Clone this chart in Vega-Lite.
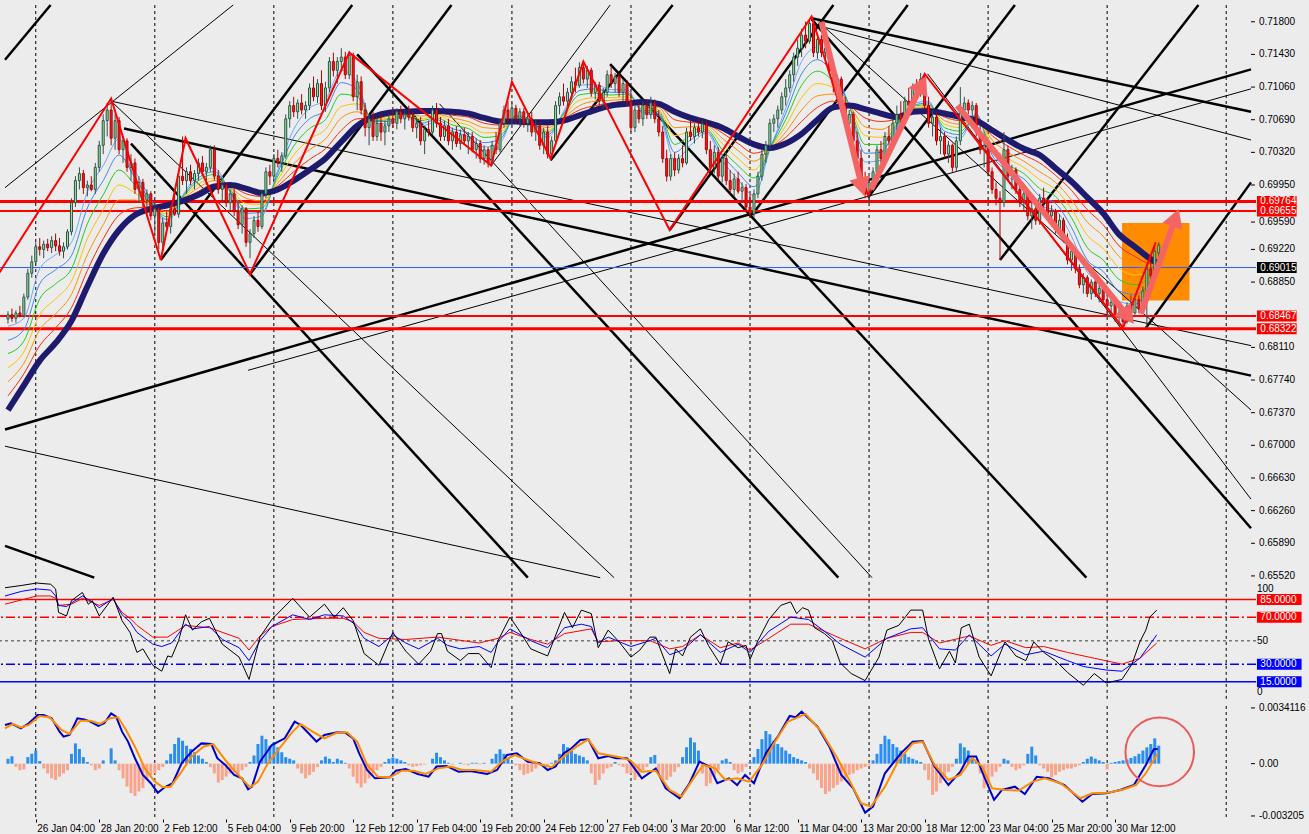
{
"$schema":"https://vega.github.io/schema/vega-lite/v6.json",
"width":1256,"height":819,
"autosize":{"type":"none"},
"padding":{"left":0,"top":0,"right":53,"bottom":15},
"background":"#ececec",
"config":{"view":{"stroke":null,"fill":"#ececec"},"axis":{"labelFont":"Liberation Sans","labelFontSize":10,"labelColor":"#000","tickColor":"#000","domain":false,"grid":false},"text":{"font":"Liberation Sans"}},
"resolve":{"scale":{"y":"independent","color":"independent","strokeWidth":"independent","strokeDash":"independent"}},
"datasets":{
"grid":[{"i":7},{"i":37},{"i":67},{"i":97},{"i":127},{"i":157},{"i":187},{"i":217},{"i":247},{"i":277},{"i":307}],
"bars":[
{"i":0,"o":6843,"h":6852,"l":6838,"c":6848,"g":30},{"i":1,"o":6848,"h":6855,"l":6840,"c":6844,"g":45},{"i":2,"o":6844,"h":6853,"l":6839,"c":6850,"g":-20},{"i":3,"o":6850,"h":6858,"l":6845,"c":6847,"g":-40},{"i":4,"o":6847,"h":6872,"l":6845,"c":6868,"g":-35},{"i":5,"o":6868,"h":6900,"l":6865,"c":6895,"g":40},{"i":6,"o":6895,"h":6915,"l":6890,"c":6908,"g":60},{"i":7,"o":6908,"h":6930,"l":6905,"c":6925,"g":80},{"i":8,"o":6925,"h":6935,"l":6915,"c":6922,"g":16},{"i":9,"o":6922,"h":6932,"l":6912,"c":6928,"g":-30},
{"i":10,"o":6928,"h":6934,"l":6920,"c":6924,"g":-60},{"i":11,"o":6924,"h":6937,"l":6918,"c":6932,"g":-90},{"i":12,"o":6932,"h":6940,"l":6920,"c":6926,"g":-100},{"i":13,"o":6926,"h":6935,"l":6915,"c":6920,"g":-80},{"i":14,"o":6920,"h":6930,"l":6912,"c":6925,"g":-60},{"i":15,"o":6925,"h":6945,"l":6922,"c":6942,"g":-40},{"i":16,"o":6942,"h":6980,"l":6938,"c":6975,"g":60},{"i":17,"o":6975,"h":7005,"l":6970,"c":7000,"g":124},{"i":18,"o":7000,"h":7015,"l":6990,"c":7008,"g":90},{"i":19,"o":7008,"h":7012,"l":6985,"c":6992,"g":40},
{"i":20,"o":6992,"h":7000,"l":6982,"c":6995,"g":10},{"i":21,"o":6995,"h":7005,"l":6988,"c":6990,"g":-10},{"i":22,"o":6990,"h":7020,"l":6985,"c":7015,"g":-40},{"i":23,"o":7015,"h":7045,"l":7010,"c":7040,"g":-30},{"i":24,"o":7040,"h":7075,"l":7030,"c":7068,"g":20},{"i":25,"o":7068,"h":7088,"l":7050,"c":7080,"g":0},{"i":26,"o":7080,"h":7093,"l":7040,"c":7048,"g":94},{"i":27,"o":7048,"h":7075,"l":7035,"c":7068,"g":20},{"i":28,"o":7068,"h":7072,"l":7030,"c":7035,"g":-40},{"i":29,"o":7035,"h":7050,"l":7020,"c":7045,"g":-90},
{"i":30,"o":7045,"h":7048,"l":7010,"c":7015,"g":-140},{"i":31,"o":7015,"h":7030,"l":7000,"c":7020,"g":-180},{"i":32,"o":7020,"h":7025,"l":6985,"c":6990,"g":-198},{"i":33,"o":6990,"h":7005,"l":6975,"c":6998,"g":-170},{"i":34,"o":6998,"h":7002,"l":6970,"c":6978,"g":-150},{"i":35,"o":6978,"h":6990,"l":6965,"c":6985,"g":-100},{"i":36,"o":6985,"h":6988,"l":6955,"c":6960,"g":-70},{"i":37,"o":6960,"h":6975,"l":6940,"c":6968,"g":-60},{"i":38,"o":6968,"h":6970,"l":6922,"c":6930,"g":-40},{"i":39,"o":6930,"h":6958,"l":6920,"c":6952,"g":-20},
{"i":40,"o":6952,"h":6965,"l":6945,"c":6948,"g":20},{"i":41,"o":6948,"h":6972,"l":6940,"c":6968,"g":60},{"i":42,"o":6968,"h":6985,"l":6960,"c":6962,"g":120},{"i":43,"o":6962,"h":7010,"l":6958,"c":7005,"g":159},{"i":44,"o":7005,"h":7050,"l":6995,"c":7000,"g":140},{"i":45,"o":7000,"h":7015,"l":6985,"c":7010,"g":110},{"i":46,"o":7010,"h":7018,"l":6995,"c":7000,"g":90},{"i":47,"o":7000,"h":7012,"l":6990,"c":7008,"g":70},{"i":48,"o":7008,"h":7025,"l":7000,"c":7020,"g":50},{"i":49,"o":7020,"h":7028,"l":7005,"c":7010,"g":30},
{"i":50,"o":7010,"h":7020,"l":6995,"c":7015,"g":10},{"i":51,"o":7015,"h":7040,"l":7010,"c":7035,"g":-20},{"i":52,"o":7035,"h":7040,"l":7000,"c":7005,"g":-60},{"i":53,"o":7005,"h":7012,"l":6985,"c":6990,"g":-116},{"i":54,"o":6990,"h":7000,"l":6975,"c":6995,"g":-100},{"i":55,"o":6995,"h":6998,"l":6970,"c":6975,"g":-80},{"i":56,"o":6975,"h":6990,"l":6965,"c":6985,"g":-60},{"i":57,"o":6985,"h":6992,"l":6960,"c":6965,"g":-50},{"i":58,"o":6965,"h":6975,"l":6945,"c":6950,"g":-70},{"i":59,"o":6950,"h":6972,"l":6940,"c":6968,"g":-40},
{"i":60,"o":6968,"h":6970,"l":6925,"c":6930,"g":-20},{"i":61,"o":6930,"h":6945,"l":6912,"c":6940,"g":10},{"i":62,"o":6940,"h":6960,"l":6935,"c":6955,"g":50},{"i":63,"o":6955,"h":6965,"l":6942,"c":6948,"g":120},{"i":64,"o":6948,"h":6990,"l":6945,"c":6985,"g":171},{"i":65,"o":6985,"h":7015,"l":6980,"c":7010,"g":150},{"i":66,"o":7010,"h":7018,"l":6995,"c":7005,"g":110},{"i":67,"o":7005,"h":7030,"l":7000,"c":7025,"g":130},{"i":68,"o":7025,"h":7035,"l":7015,"c":7020,"g":100},{"i":69,"o":7020,"h":7032,"l":7010,"c":7028,"g":70},
{"i":70,"o":7028,"h":7075,"l":7025,"c":7070,"g":40},{"i":71,"o":7070,"h":7090,"l":7060,"c":7085,"g":30},{"i":72,"o":7085,"h":7095,"l":7072,"c":7078,"g":20},{"i":73,"o":7078,"h":7092,"l":7070,"c":7088,"g":-30},{"i":74,"o":7088,"h":7098,"l":7075,"c":7080,"g":-60},{"i":75,"o":7080,"h":7090,"l":7070,"c":7085,"g":-90},{"i":76,"o":7085,"h":7110,"l":7080,"c":7105,"g":-70},{"i":77,"o":7105,"h":7118,"l":7090,"c":7095,"g":-50},{"i":78,"o":7095,"h":7115,"l":7088,"c":7110,"g":-20},{"i":79,"o":7110,"h":7125,"l":7080,"c":7085,"g":20},
{"i":80,"o":7085,"h":7112,"l":7078,"c":7105,"g":43},{"i":81,"o":7105,"h":7140,"l":7100,"c":7135,"g":30},{"i":82,"o":7135,"h":7145,"l":7118,"c":7125,"g":10},{"i":83,"o":7125,"h":7140,"l":7110,"c":7135,"g":30},{"i":84,"o":7135,"h":7150,"l":7125,"c":7140,"g":20},{"i":85,"o":7140,"h":7146,"l":7115,"c":7120,"g":5},{"i":86,"o":7120,"h":7147,"l":7115,"c":7142,"g":-30},{"i":87,"o":7142,"h":7145,"l":7090,"c":7095,"g":-80},{"i":88,"o":7095,"h":7120,"l":7080,"c":7112,"g":-120},{"i":89,"o":7112,"h":7118,"l":7075,"c":7080,"g":-145},
{"i":90,"o":7080,"h":7088,"l":7050,"c":7060,"g":-120},{"i":91,"o":7060,"h":7075,"l":7040,"c":7070,"g":-90},{"i":92,"o":7070,"h":7078,"l":7045,"c":7050,"g":-60},{"i":93,"o":7050,"h":7072,"l":7045,"c":7065,"g":-40},{"i":94,"o":7065,"h":7075,"l":7045,"c":7055,"g":-20},{"i":95,"o":7055,"h":7068,"l":7040,"c":7062,"g":10},{"i":96,"o":7062,"h":7075,"l":7055,"c":7070,"g":30},{"i":97,"o":7070,"h":7080,"l":7060,"c":7065,"g":37},{"i":98,"o":7065,"h":7082,"l":7058,"c":7078,"g":30},{"i":99,"o":7078,"h":7085,"l":7065,"c":7070,"g":20},
{"i":100,"o":7070,"h":7080,"l":7058,"c":7075,"g":10},{"i":101,"o":7075,"h":7085,"l":7068,"c":7072,"g":-10},{"i":102,"o":7072,"h":7078,"l":7055,"c":7060,"g":-20},{"i":103,"o":7060,"h":7070,"l":7048,"c":7065,"g":-15},{"i":104,"o":7065,"h":7072,"l":7040,"c":7045,"g":-10},{"i":105,"o":7045,"h":7062,"l":7030,"c":7058,"g":-5},{"i":106,"o":7058,"h":7068,"l":7050,"c":7055,"g":0},{"i":107,"o":7055,"h":7085,"l":7052,"c":7080,"g":30},{"i":108,"o":7080,"h":7088,"l":7060,"c":7065,"g":67},{"i":109,"o":7065,"h":7072,"l":7045,"c":7050,"g":40},
{"i":110,"o":7050,"h":7068,"l":7045,"c":7062,"g":20},{"i":111,"o":7062,"h":7070,"l":7040,"c":7045,"g":5},{"i":112,"o":7045,"h":7060,"l":7035,"c":7055,"g":-5},{"i":113,"o":7055,"h":7062,"l":7038,"c":7042,"g":0},{"i":114,"o":7042,"h":7058,"l":7035,"c":7052,"g":5},{"i":115,"o":7052,"h":7060,"l":7040,"c":7045,"g":-5},{"i":116,"o":7045,"h":7055,"l":7030,"c":7050,"g":-10},{"i":117,"o":7050,"h":7055,"l":7032,"c":7035,"g":5},{"i":118,"o":7035,"h":7048,"l":7025,"c":7042,"g":5},{"i":119,"o":7042,"h":7046,"l":7020,"c":7025,"g":-5},
{"i":120,"o":7025,"h":7040,"l":7018,"c":7035,"g":5},{"i":121,"o":7035,"h":7038,"l":7015,"c":7020,"g":0},{"i":122,"o":7020,"h":7045,"l":7017,"c":7040,"g":30},{"i":123,"o":7040,"h":7055,"l":7030,"c":7035,"g":60},{"i":124,"o":7035,"h":7070,"l":7032,"c":7065,"g":88},{"i":125,"o":7065,"h":7085,"l":7060,"c":7080,"g":60},{"i":126,"o":7080,"h":7090,"l":7065,"c":7070,"g":30},{"i":127,"o":7070,"h":7088,"l":7062,"c":7082,"g":5},{"i":128,"o":7082,"h":7086,"l":7065,"c":7070,"g":-10},{"i":129,"o":7070,"h":7082,"l":7062,"c":7078,"g":-40},
{"i":130,"o":7078,"h":7082,"l":7060,"c":7065,"g":-69},{"i":131,"o":7065,"h":7075,"l":7055,"c":7070,"g":-60},{"i":132,"o":7070,"h":7078,"l":7050,"c":7055,"g":-50},{"i":133,"o":7055,"h":7068,"l":7045,"c":7062,"g":-30},{"i":134,"o":7062,"h":7066,"l":7035,"c":7040,"g":-10},{"i":135,"o":7040,"h":7060,"l":7030,"c":7055,"g":-20},{"i":136,"o":7055,"h":7062,"l":7025,"c":7030,"g":-10},{"i":137,"o":7030,"h":7050,"l":7026,"c":7045,"g":5},{"i":138,"o":7045,"h":7090,"l":7040,"c":7085,"g":20},{"i":139,"o":7085,"h":7100,"l":7075,"c":7095,"g":60},
{"i":140,"o":7095,"h":7110,"l":7085,"c":7090,"g":120},{"i":141,"o":7090,"h":7105,"l":7080,"c":7100,"g":100},{"i":142,"o":7100,"h":7118,"l":7092,"c":7112,"g":80},{"i":143,"o":7112,"h":7128,"l":7100,"c":7108,"g":60},{"i":144,"o":7108,"h":7134,"l":7105,"c":7128,"g":50},{"i":145,"o":7128,"h":7135,"l":7110,"c":7115,"g":40},{"i":146,"o":7115,"h":7130,"l":7105,"c":7125,"g":20},{"i":147,"o":7125,"h":7128,"l":7095,"c":7100,"g":-60},{"i":148,"o":7100,"h":7112,"l":7092,"c":7108,"g":-130},{"i":149,"o":7108,"h":7112,"l":7085,"c":7090,"g":-100},
{"i":150,"o":7090,"h":7105,"l":7082,"c":7100,"g":-60},{"i":151,"o":7100,"h":7125,"l":7095,"c":7120,"g":-30},{"i":152,"o":7120,"h":7130,"l":7105,"c":7110,"g":-20},{"i":153,"o":7110,"h":7122,"l":7100,"c":7118,"g":10},{"i":154,"o":7118,"h":7122,"l":7095,"c":7100,"g":-10},{"i":155,"o":7100,"h":7115,"l":7090,"c":7110,"g":-20},{"i":156,"o":7110,"h":7114,"l":7085,"c":7090,"g":-60},{"i":157,"o":7090,"h":7100,"l":7055,"c":7060,"g":-60},{"i":158,"o":7060,"h":7085,"l":7055,"c":7080,"g":-100},{"i":159,"o":7080,"h":7088,"l":7065,"c":7070,"g":-80},
{"i":160,"o":7070,"h":7090,"l":7062,"c":7085,"g":-40},{"i":161,"o":7085,"h":7092,"l":7070,"c":7075,"g":-20},{"i":162,"o":7075,"h":7095,"l":7070,"c":7088,"g":40},{"i":163,"o":7088,"h":7092,"l":7065,"c":7070,"g":53},{"i":164,"o":7070,"h":7080,"l":7050,"c":7055,"g":-60},{"i":165,"o":7055,"h":7062,"l":7020,"c":7025,"g":-116},{"i":166,"o":7025,"h":7035,"l":6999,"c":7005,"g":-100},{"i":167,"o":7005,"h":7030,"l":7000,"c":7025,"g":-80},{"i":168,"o":7025,"h":7032,"l":7005,"c":7012,"g":-50},{"i":169,"o":7012,"h":7030,"l":7008,"c":7025,"g":-20},
{"i":170,"o":7025,"h":7040,"l":7015,"c":7020,"g":40},{"i":171,"o":7020,"h":7060,"l":7018,"c":7055,"g":100},{"i":172,"o":7055,"h":7068,"l":7045,"c":7050,"g":159},{"i":173,"o":7050,"h":7065,"l":7042,"c":7060,"g":130},{"i":174,"o":7060,"h":7072,"l":7050,"c":7055,"g":80},{"i":175,"o":7055,"h":7068,"l":7048,"c":7064,"g":-60},{"i":176,"o":7064,"h":7068,"l":7030,"c":7035,"g":-137},{"i":177,"o":7035,"h":7045,"l":7010,"c":7015,"g":-120},{"i":178,"o":7015,"h":7040,"l":7008,"c":7032,"g":-80},{"i":179,"o":7032,"h":7038,"l":7000,"c":7005,"g":-40},
{"i":180,"o":7005,"h":7030,"l":6998,"c":7025,"g":20},{"i":181,"o":7025,"h":7030,"l":6995,"c":7000,"g":30},{"i":182,"o":7000,"h":7012,"l":6985,"c":6990,"g":10},{"i":183,"o":6990,"h":7008,"l":6982,"c":7002,"g":-40},{"i":184,"o":7002,"h":7010,"l":6985,"c":6988,"g":-60},{"i":185,"o":6988,"h":6998,"l":6975,"c":6992,"g":-50},{"i":186,"o":6992,"h":6996,"l":6965,"c":6970,"g":-20},{"i":187,"o":6970,"h":6985,"l":6958,"c":6962,"g":10},{"i":188,"o":6962,"h":6990,"l":6958,"c":6985,"g":40},{"i":189,"o":6985,"h":7010,"l":6980,"c":7005,"g":90},
{"i":190,"o":7005,"h":7035,"l":7000,"c":7030,"g":150},{"i":191,"o":7030,"h":7045,"l":7020,"c":7040,"g":200},{"i":192,"o":7040,"h":7070,"l":7035,"c":7065,"g":180},{"i":193,"o":7065,"h":7075,"l":7055,"c":7070,"g":140},{"i":194,"o":7070,"h":7085,"l":7060,"c":7080,"g":120},{"i":195,"o":7080,"h":7100,"l":7075,"c":7095,"g":100},{"i":196,"o":7095,"h":7115,"l":7085,"c":7105,"g":80},{"i":197,"o":7105,"h":7125,"l":7100,"c":7120,"g":60},{"i":198,"o":7120,"h":7145,"l":7112,"c":7140,"g":40},{"i":199,"o":7140,"h":7160,"l":7130,"c":7150,"g":30},
{"i":200,"o":7150,"h":7172,"l":7140,"c":7165,"g":20},{"i":201,"o":7165,"h":7180,"l":7150,"c":7158,"g":10},{"i":202,"o":7158,"h":7183,"l":7155,"c":7178,"g":-30},{"i":203,"o":7178,"h":7182,"l":7140,"c":7145,"g":-60},{"i":204,"o":7145,"h":7165,"l":7138,"c":7160,"g":-100},{"i":205,"o":7160,"h":7165,"l":7140,"c":7145,"g":-150},{"i":206,"o":7145,"h":7155,"l":7132,"c":7150,"g":-186},{"i":207,"o":7150,"h":7152,"l":7120,"c":7125,"g":-170},{"i":208,"o":7125,"h":7135,"l":7100,"c":7108,"g":-150},{"i":209,"o":7108,"h":7120,"l":7095,"c":7115,"g":-130},
{"i":210,"o":7115,"h":7118,"l":7080,"c":7085,"g":-110},{"i":211,"o":7085,"h":7095,"l":7060,"c":7065,"g":-90},{"i":212,"o":7065,"h":7080,"l":7050,"c":7075,"g":-70},{"i":213,"o":7075,"h":7078,"l":7040,"c":7045,"g":-60},{"i":214,"o":7045,"h":7055,"l":7020,"c":7025,"g":-40},{"i":215,"o":7025,"h":7035,"l":6995,"c":7000,"g":-30},{"i":216,"o":7000,"h":7010,"l":6980,"c":6985,"g":-20},{"i":217,"o":6985,"h":7005,"l":6975,"c":6998,"g":-10},{"i":218,"o":6998,"h":7015,"l":6990,"c":7010,"g":20},{"i":219,"o":7010,"h":7040,"l":7005,"c":7035,"g":60},
{"i":220,"o":7035,"h":7045,"l":7020,"c":7025,"g":120},{"i":221,"o":7025,"h":7055,"l":7020,"c":7050,"g":171},{"i":222,"o":7050,"h":7062,"l":7040,"c":7045,"g":150},{"i":223,"o":7045,"h":7070,"l":7040,"c":7065,"g":120},{"i":224,"o":7065,"h":7085,"l":7055,"c":7075,"g":100},{"i":225,"o":7075,"h":7090,"l":7065,"c":7070,"g":80},{"i":226,"o":7070,"h":7095,"l":7065,"c":7090,"g":60},{"i":227,"o":7090,"h":7105,"l":7080,"c":7085,"g":40},{"i":228,"o":7085,"h":7110,"l":7078,"c":7105,"g":30},{"i":229,"o":7105,"h":7115,"l":7095,"c":7100,"g":20},
{"i":230,"o":7100,"h":7122,"l":7095,"c":7115,"g":10},{"i":231,"o":7115,"h":7121,"l":7080,"c":7085,"g":-40},{"i":232,"o":7085,"h":7095,"l":7060,"c":7065,"g":-100},{"i":233,"o":7065,"h":7080,"l":7050,"c":7072,"g":-192},{"i":234,"o":7072,"h":7078,"l":7040,"c":7045,"g":-170},{"i":235,"o":7045,"h":7060,"l":7030,"c":7050,"g":-120},{"i":236,"o":7050,"h":7055,"l":7025,"c":7030,"g":-80},{"i":237,"o":7030,"h":7045,"l":7020,"c":7040,"g":-50},{"i":238,"o":7040,"h":7042,"l":7010,"c":7015,"g":-20},{"i":239,"o":7015,"h":7050,"l":7010,"c":7045,"g":30},
{"i":240,"o":7045,"h":7106,"l":7040,"c":7080,"g":124},{"i":241,"o":7080,"h":7095,"l":7070,"c":7088,"g":100},{"i":242,"o":7088,"h":7092,"l":7075,"c":7080,"g":80},{"i":243,"o":7080,"h":7090,"l":7068,"c":7085,"g":40},{"i":244,"o":7085,"h":7088,"l":7050,"c":7055,"g":10},{"i":245,"o":7055,"h":7062,"l":7030,"c":7035,"g":-60},{"i":246,"o":7035,"h":7045,"l":7015,"c":7040,"g":-151},{"i":247,"o":7040,"h":7042,"l":7005,"c":7010,"g":-120},{"i":248,"o":7010,"h":7015,"l":6985,"c":6990,"g":-80},{"i":249,"o":6990,"h":6998,"l":6972,"c":6980,"g":-50},
{"i":250,"o":6980,"h":6988,"l":6910,"c":6975,"g":-20},{"i":251,"o":6975,"h":7055,"l":6970,"c":7035,"g":30},{"i":252,"o":7035,"h":7040,"l":7000,"c":7005,"g":20},{"i":253,"o":7005,"h":7018,"l":6990,"c":7012,"g":-20},{"i":254,"o":7012,"h":7015,"l":6985,"c":6990,"g":-40},{"i":255,"o":6990,"h":7000,"l":6970,"c":6975,"g":-30},{"i":256,"o":6975,"h":6992,"l":6965,"c":6985,"g":-10},{"i":257,"o":6985,"h":6990,"l":6955,"c":6960,"g":60},{"i":258,"o":6960,"h":6975,"l":6945,"c":6968,"g":104},{"i":259,"o":6968,"h":6972,"l":6950,"c":6955,"g":50},
{"i":260,"o":6955,"h":6985,"l":6950,"c":6980,"g":-10},{"i":261,"o":6980,"h":6992,"l":6968,"c":6975,"g":-30},{"i":262,"o":6975,"h":6980,"l":6955,"c":6960,"g":-50},{"i":263,"o":6960,"h":6972,"l":6948,"c":6965,"g":-84},{"i":264,"o":6965,"h":6968,"l":6940,"c":6945,"g":-70},{"i":265,"o":6945,"h":6962,"l":6938,"c":6955,"g":-50},{"i":266,"o":6955,"h":6958,"l":6930,"c":6935,"g":-40},{"i":267,"o":6935,"h":6940,"l":6905,"c":6910,"g":-30},{"i":268,"o":6910,"h":6925,"l":6898,"c":6920,"g":-30},{"i":269,"o":6920,"h":6922,"l":6895,"c":6900,"g":-20},
{"i":270,"o":6900,"h":6905,"l":6878,"c":6882,"g":-10},{"i":271,"o":6882,"h":6895,"l":6872,"c":6890,"g":10},{"i":272,"o":6890,"h":6893,"l":6868,"c":6872,"g":30},{"i":273,"o":6872,"h":6888,"l":6865,"c":6885,"g":43},{"i":274,"o":6885,"h":6890,"l":6868,"c":6872,"g":30},{"i":275,"o":6872,"h":6882,"l":6862,"c":6878,"g":20},{"i":276,"o":6878,"h":6882,"l":6860,"c":6865,"g":10},{"i":277,"o":6865,"h":6870,"l":6850,"c":6858,"g":-35},{"i":278,"o":6858,"h":6868,"l":6845,"c":6862,"g":5},{"i":279,"o":6862,"h":6866,"l":6840,"c":6845,"g":10},
{"i":280,"o":6845,"h":6858,"l":6835,"c":6850,"g":15},{"i":281,"o":6850,"h":6855,"l":6833,"c":6840,"g":20},{"i":282,"o":6840,"h":6862,"l":6838,"c":6858,"g":25},{"i":283,"o":6858,"h":6870,"l":6845,"c":6850,"g":35},{"i":284,"o":6850,"h":6868,"l":6848,"c":6865,"g":45},{"i":285,"o":6865,"h":6870,"l":6850,"c":6855,"g":60},{"i":286,"o":6855,"h":6880,"l":6852,"c":6875,"g":80},{"i":287,"o":6875,"h":6905,"l":6833,"c":6900,"g":100},{"i":288,"o":6900,"h":6915,"l":6885,"c":6892,"g":120},{"i":289,"o":6892,"h":6925,"l":6888,"c":6920,"g":155},
{"i":290,"o":6918,"h":6930,"l":6905,"c":6927,"g":110}],
"ma":[
{"i":0,"n":6740,"a":6835,"b":6819,"e":6804,"f":6788,"p":6772,"r":6756},{"i":4,"n":6768,"a":6844,"b":6831,"e":6818,"f":6806,"p":6793,"r":6781},{"i":8,"n":6796,"a":6900,"b":6883,"e":6866,"f":6848,"p":6831,"r":6813},{"i":12,"n":6816,"a":6916,"b":6899,"e":6883,"f":6866,"p":6849,"r":6833},{"i":16,"n":6841,"a":6930,"b":6915,"e":6900,"f":6886,"p":6871,"r":6856},{"i":20,"n":6880,"a":6987,"b":6969,"e":6951,"f":6934,"p":6916,"r":6898},{"i":24,"n":6917,"a":7017,"b":7000,"e":6984,"f":6967,"p":6950,"r":6934},{"i":28,"n":6944,"a":7047,"b":7029,"e":7012,"f":6995,"p":6978,"r":6961},{"i":32,"n":6961,"a":7011,"b":7003,"e":6995,"f":6986,"p":6978,"r":6969},{"i":36,"n":6968,"a":6979,"b":6977,"e":6975,"f":6973,"p":6972,"r":6970},
{"i":40,"n":6972,"a":6952,"b":6956,"e":6959,"f":6962,"p":6965,"r":6969},{"i":44,"n":6977,"a":6983,"b":6982,"e":6981,"f":6980,"p":6979,"r":6978},{"i":48,"n":6984,"a":7007,"b":7003,"e":7000,"f":6996,"p":6992,"r":6988},{"i":52,"n":6993,"a":7014,"b":7010,"e":7007,"f":7003,"p":7000,"r":6996},{"i":56,"n":6995,"a":6987,"b":6988,"e":6990,"f":6991,"p":6992,"r":6994},{"i":60,"n":6991,"a":6957,"b":6963,"e":6968,"f":6974,"p":6980,"r":6985},{"i":64,"n":6986,"a":6960,"b":6964,"e":6969,"f":6973,"p":6977,"r":6982},{"i":68,"n":6990,"a":7012,"b":7009,"e":7005,"f":7001,"p":6997,"r":6994},{"i":72,"n":7000,"a":7058,"b":7049,"e":7039,"f":7029,"p":7019,"r":7010},{"i":76,"n":7012,"a":7082,"b":7070,"e":7059,"f":7047,"p":7035,"r":7024},
{"i":80,"n":7025,"a":7092,"b":7080,"e":7069,"f":7058,"p":7047,"r":7036},{"i":84,"n":7044,"a":7125,"b":7111,"e":7098,"f":7084,"p":7071,"r":7057},{"i":88,"n":7062,"a":7111,"b":7103,"e":7095,"f":7087,"p":7078,"r":7070},{"i":92,"n":7072,"a":7066,"b":7067,"e":7068,"f":7069,"p":7070,"r":7071},{"i":96,"n":7077,"a":7064,"b":7067,"e":7069,"f":7071,"p":7073,"r":7075},{"i":100,"n":7078,"a":7073,"b":7074,"e":7074,"f":7075,"p":7076,"r":7077},{"i":104,"n":7079,"a":7062,"b":7065,"e":7068,"f":7070,"p":7073,"r":7076},{"i":108,"n":7079,"a":7066,"b":7069,"e":7071,"f":7073,"p":7075,"r":7077},{"i":112,"n":7078,"a":7056,"b":7059,"e":7063,"f":7067,"p":7071,"r":7074},{"i":116,"n":7076,"a":7050,"b":7054,"e":7059,"f":7063,"p":7067,"r":7072},
{"i":120,"n":7071,"a":7038,"b":7043,"e":7049,"f":7054,"p":7060,"r":7065},{"i":124,"n":7067,"a":7043,"b":7047,"e":7051,"f":7055,"p":7059,"r":7063},{"i":128,"n":7067,"a":7074,"b":7073,"e":7072,"f":7071,"p":7069,"r":7068},{"i":132,"n":7066,"a":7067,"b":7067,"e":7067,"f":7066,"p":7066,"r":7066},{"i":136,"n":7066,"a":7049,"b":7052,"e":7055,"f":7057,"p":7060,"r":7063},{"i":140,"n":7068,"a":7078,"b":7076,"e":7075,"f":7073,"p":7071,"r":7070},{"i":144,"n":7074,"a":7108,"b":7102,"e":7097,"f":7091,"p":7085,"r":7080},{"i":148,"n":7080,"a":7109,"b":7104,"e":7099,"f":7094,"p":7090,"r":7085},{"i":152,"n":7085,"a":7103,"b":7100,"e":7097,"f":7094,"p":7091,"r":7088},{"i":156,"n":7087,"a":7103,"b":7100,"e":7098,"f":7095,"p":7092,"r":7090},
{"i":160,"n":7089,"a":7076,"b":7078,"e":7080,"f":7082,"p":7085,"r":7087},{"i":164,"n":7087,"a":7074,"b":7076,"e":7078,"f":7080,"p":7083,"r":7085},{"i":168,"n":7078,"a":7023,"b":7032,"e":7041,"f":7051,"p":7060,"r":7069},{"i":172,"n":7071,"a":7040,"b":7046,"e":7051,"f":7056,"p":7061,"r":7066},{"i":176,"n":7066,"a":7054,"b":7056,"e":7058,"f":7060,"p":7062,"r":7064},{"i":180,"n":7060,"a":7023,"b":7029,"e":7035,"f":7042,"p":7048,"r":7054},{"i":184,"n":7050,"a":7001,"b":7009,"e":7017,"f":7025,"p":7034,"r":7042},{"i":188,"n":7041,"a":6983,"b":6993,"e":7003,"f":7012,"p":7022,"r":7031},{"i":192,"n":7037,"a":7035,"b":7036,"e":7036,"f":7036,"p":7036,"r":7037},{"i":196,"n":7042,"a":7082,"b":7076,"e":7069,"f":7062,"p":7055,"r":7049},
{"i":200,"n":7053,"a":7135,"b":7121,"e":7108,"f":7094,"p":7080,"r":7067},{"i":204,"n":7069,"a":7151,"b":7137,"e":7124,"f":7110,"p":7096,"r":7083},{"i":208,"n":7083,"a":7127,"b":7120,"e":7112,"f":7105,"p":7098,"r":7090},{"i":212,"n":7085,"a":7085,"b":7085,"e":7085,"f":7085,"p":7085,"r":7085},{"i":216,"n":7081,"a":7021,"b":7031,"e":7041,"f":7051,"p":7061,"r":7071},{"i":220,"n":7076,"a":7023,"b":7032,"e":7041,"f":7049,"p":7058,"r":7067},{"i":224,"n":7072,"a":7060,"b":7062,"e":7064,"f":7066,"p":7068,"r":7070},{"i":228,"n":7078,"a":7087,"b":7085,"e":7084,"f":7082,"p":7081,"r":7079},{"i":232,"n":7079,"a":7090,"b":7088,"e":7086,"f":7084,"p":7083,"r":7081},{"i":236,"n":7076,"a":7052,"b":7056,"e":7060,"f":7064,"p":7068,"r":7072},
{"i":240,"n":7072,"a":7048,"b":7052,"e":7056,"f":7060,"p":7064,"r":7068},{"i":244,"n":7068,"a":7076,"b":7075,"e":7073,"f":7072,"p":7071,"r":7069},{"i":248,"n":7057,"a":7023,"b":7029,"e":7034,"f":7040,"p":7046,"r":7051},{"i":252,"n":7046,"a":7004,"b":7011,"e":7018,"f":7025,"p":7032,"r":7039},{"i":256,"n":7036,"a":6995,"b":7002,"e":7008,"f":7015,"p":7022,"r":7029},{"i":260,"n":7029,"a":6972,"b":6982,"e":6991,"f":7001,"p":7010,"r":7020},{"i":264,"n":7014,"a":6966,"b":6974,"e":6982,"f":6990,"p":6998,"r":7006},{"i":268,"n":6999,"a":6937,"b":6947,"e":6958,"f":6968,"p":6978,"r":6989},{"i":272,"n":6981,"a":6896,"b":6910,"e":6924,"f":6938,"p":6953,"r":6967},{"i":276,"n":6963,"a":6884,"b":6897,"e":6910,"f":6923,"p":6937,"r":6950},
{"i":280,"n":6939,"a":6863,"b":6875,"e":6888,"f":6901,"p":6914,"r":6926},{"i":284,"n":6925,"a":6860,"b":6871,"e":6882,"f":6893,"p":6903,"r":6914},{"i":288,"n":6911,"a":6883,"b":6888,"e":6892,"f":6897,"p":6902,"r":6906},{"i":290,"n":6906,"a":6909,"b":6908,"e":6908,"f":6907,"p":6907,"r":6906}],
"dl":[
{"w":"k","i":-0.75,"p":6718,"i2":313.25,"p2":7126},{"w":"k","i":29.25,"p":7059,"i2":313.25,"p2":6779},{"w":"k","i":202.5,"p":7184,"i2":313.25,"p2":7078},{"w":"k","i":31,"p":7042,"i2":131,"p2":6550},{"w":"k","i":88,"p":7143,"i2":209.25,"p2":6550},{"w":"k","i":151.75,"p":7132,"i2":271.75,"p2":6550},{"w":"k","i":202.5,"p":7183,"i2":313.25,"p2":6606},{"w":"k","i":38.5,"p":6910,"i2":86.75,"p2":7199},{"w":"k","i":61,"p":6894,"i2":111.75,"p2":7199},{"w":"k","i":136.75,"p":7023,"i2":167.5,"p2":7199},{"w":"k","i":166.75,"p":6944,"i2":208,"p2":7199},{"w":"k","i":187.5,"p":6961,"i2":226.75,"p2":7199},{"w":"k","i":216.75,"p":6981,"i2":253.75,"p2":7199},{"w":"k","i":250,"p":6910,"i2":300,"p2":7199},{"w":"k","i":286.75,"p":6833,"i2":313.25,"p2":6998},{"w":"k","i":-0.75,"p":7137,"i2":10.75,"p2":7199},{"w":"k","i":-0.75,"p":6586,"i2":21.75,"p2":6550},
{"w":"t","i":60.5,"p":6785,"i2":313.25,"p2":7104},{"w":"t","i":26,"p":7090,"i2":313.25,"p2":6813},{"w":"t","i":203,"p":7177,"i2":313.25,"p2":7046},{"w":"t","i":26,"p":7090,"i2":152.75,"p2":6550},{"w":"t","i":108.75,"p":7087,"i2":217.75,"p2":6550},{"w":"t","i":204.25,"p":7180,"i2":313.25,"p2":6740},{"w":"t","i":231.75,"p":7121,"i2":313.25,"p2":6639},{"w":"t","i":-0.75,"p":6992,"i2":56.75,"p2":7199},{"w":"t","i":-0.75,"p":6699,"i2":149.25,"p2":6550},{"w":"t","i":121.75,"p":7017,"i2":151.75,"p2":7199}],
"hl":[{"p":6976.4,"s":"rk"},{"p":6965.5,"s":"rt"},{"p":6846.7,"s":"rt"},{"p":6832.2,"s":"rk"},{"p":6901.5,"s":"bt"}],
"zz":[{"i":-10,"p":6841},{"i":26,"p":7093},{"i":38.5,"p":6910},{"i":44.75,"p":7048},{"i":61,"p":6894},{"i":86,"p":7145},{"i":121.75,"p":7017},{"i":127,"p":7112},{"i":136.75,"p":7025},{"i":145,"p":7135},{"i":166.75,"p":6944},{"i":202.5,"p":7186},{"i":216.75,"p":6983},{"i":231,"p":7121},{"i":281,"p":6833},{"i":289.25,"p":6930}],
"ar":[{"i":205,"p":7180,"i2":215.2,"p2":6993},{"i":217.5,"p":6990,"i2":230.3,"p2":7109},{"i":239.25,"p":7085,"i2":282.3,"p2":6846},{"i":285.5,"p":6849,"i2":294.25,"p2":6958}],
"bm":[{"p":6965.5,"t":"0.69655","k":"r"},{"p":6976.4,"t":"0.69764","k":"r"},{"p":6901.5,"t":"0.69015","k":"k"},{"p":6846.7,"t":"0.68467","k":"r"},{"p":6832.2,"t":"0.68322","k":"r"}],
"yl":[{"p":7180,"t":"0.71800"},{"p":7143,"t":"0.71430"},{"p":7106,"t":"0.71060"},{"p":7069,"t":"0.70690"},{"p":7032,"t":"0.70320"},{"p":6995,"t":"0.69950"},{"p":6953,"t":"0.69590"},{"p":6922,"t":"0.69220"},{"p":6885,"t":"0.68850"},{"p":6811,"t":"0.68110"},{"p":6774,"t":"0.67740"},{"p":6737,"t":"0.67370"},{"p":6700,"t":"0.67000"},{"p":6663,"t":"0.66630"},{"p":6626,"t":"0.66260"},{"p":6589,"t":"0.65890"},{"p":6552,"t":"0.65520"}],
"bo":[{"v":85,"t":"85.0000","k":"r"},{"v":70,"t":"70.0000","k":"r"},{"v":30,"t":"30.0000","k":"b"},{"v":15,"t":"15.0000","k":"b"}],
"yo":[{"v":94,"t":"100"},{"v":50,"t":"50"},{"v":6,"t":"0"}],
"ym":[{"v":341.16,"t":"0.0034116"},{"v":0,"t":"0.00"},{"v":-320.5,"t":"-0.003205"}],
"lv":[{"v":85,"s":"r1"},{"v":70,"s":"r2"},{"v":50,"s":"g"},{"v":30,"s":"b2"},{"v":15,"s":"b1"}],
"ok":[{"i":-0.75,"v":95},{"i":3.5,"v":97},{"i":7.25,"v":99},{"i":10.75,"v":98},{"i":12,"v":94},{"i":12.75,"v":74},{"i":14.75,"v":71},{"i":16,"v":84},{"i":18.75,"v":91},{"i":20.25,"v":81},{"i":21.25,"v":84},{"i":23,"v":71},{"i":25,"v":80},{"i":26.5,"v":87},{"i":28.75,"v":67},{"i":30.75,"v":57},{"i":32.5,"v":40},{"i":34,"v":43},{"i":36.5,"v":29},{"i":38.75,"v":24},{"i":40.25,"v":37},{"i":41.25,"v":36},{"i":43,"v":50},{"i":44.75,"v":72},{"i":46.5,"v":59},{"i":48.75,"v":66},{"i":50.75,"v":69},{"i":54,"v":47},{"i":58.25,"v":36},{"i":60.75,"v":17},{"i":63.5,"v":53},{"i":66.5,"v":68},{"i":71.75,"v":86},{"i":76,"v":70},{"i":79.75,"v":81},{"i":82.25,"v":70},{"i":84.5,"v":78},{"i":87,"v":67},{"i":89.75,"v":39},{"i":93.5,"v":29},{"i":97,"v":57},{"i":100.25,"v":41},{"i":103.5,"v":30},{"i":106.5,"v":41},{"i":108.25,"v":56},{"i":109.25,"v":56},{"i":110.75,"v":41},{"i":114,"v":33},{"i":116,"v":39},{"i":118.75,"v":39},{"i":121.75,"v":27},{"i":123.5,"v":50},{"i":126.5,"v":70},{"i":128.75,"v":59},{"i":131.75,"v":43},{"i":136,"v":37},{"i":140.25,"v":74},{"i":142.25,"v":61},{"i":144.5,"v":76},{"i":147,"v":73},{"i":148.75,"v":44},{"i":151.25,"v":59},{"i":154,"v":49},{"i":157,"v":36},{"i":159.25,"v":42},{"i":161.75,"v":53},{"i":163.25,"v":53},{"i":166.75,"v":22},{"i":168.25,"v":43},{"i":170,"v":37},{"i":172,"v":53},{"i":174.5,"v":60},{"i":176.5,"v":46},{"i":179.5,"v":30},{"i":181.5,"v":49},{"i":184,"v":44},{"i":186,"v":46},{"i":187,"v":34},{"i":189,"v":50},{"i":191.75,"v":68},{"i":194.75,"v":80},{"i":197.25,"v":83},{"i":198.75,"v":73},{"i":200.25,"v":78},{"i":201.75,"v":76},{"i":203.25,"v":61},{"i":205.75,"v":56},{"i":207.75,"v":50},{"i":209.75,"v":31},{"i":212.5,"v":22},{"i":216,"v":16},{"i":219.5,"v":36},{"i":221.5,"v":59},{"i":224.5,"v":63},{"i":227.5,"v":76},{"i":230.5,"v":76},{"i":232,"v":51},{"i":234.75,"v":26},{"i":237.25,"v":41},{"i":238.75,"v":31},{"i":240.25,"v":61},{"i":242.25,"v":64},{"i":244.75,"v":36},{"i":247.75,"v":20},{"i":251.25,"v":49},{"i":254,"v":37},{"i":256.5,"v":33},{"i":258.5,"v":49},{"i":261,"v":40},{"i":264,"v":33},{"i":267,"v":23},{"i":271,"v":12},{"i":273.75,"v":22},{"i":276.75,"v":14},{"i":280.75,"v":17},{"i":283.25,"v":30},{"i":285.25,"v":49},{"i":286.75,"v":59},{"i":287.75,"v":70},{"i":289.5,"v":76}],
"ob":[{"i":-0.75,"v":88},{"i":3.5,"v":92},{"i":7.25,"v":94},{"i":10.75,"v":93},{"i":12,"v":88},{"i":12.75,"v":80},{"i":14.75,"v":79},{"i":16,"v":82},{"i":18.75,"v":88},{"i":21.25,"v":83},{"i":23,"v":78},{"i":26.5,"v":86},{"i":28.75,"v":72},{"i":30.75,"v":66},{"i":32.5,"v":57},{"i":36.5,"v":47},{"i":38.75,"v":45},{"i":41.25,"v":48},{"i":44.75,"v":64},{"i":46.5,"v":60},{"i":50.75,"v":62},{"i":54,"v":51},{"i":58.25,"v":44},{"i":60.75,"v":33},{"i":63.5,"v":50},{"i":66.5,"v":62},{"i":71.75,"v":72},{"i":76,"v":68},{"i":79.75,"v":72},{"i":84.5,"v":71},{"i":87,"v":65},{"i":89.75,"v":52},{"i":93.5,"v":45},{"i":97,"v":55},{"i":100.25,"v":48},{"i":103.5,"v":43},{"i":108.25,"v":52},{"i":110.75,"v":46},{"i":114,"v":43},{"i":118.75,"v":45},{"i":121.75,"v":40},{"i":123.5,"v":49},{"i":126.5,"v":60},{"i":131.75,"v":50},{"i":136,"v":44},{"i":140.25,"v":61},{"i":144.5,"v":64},{"i":147,"v":62},{"i":148.75,"v":48},{"i":151.25,"v":53},{"i":157,"v":45},{"i":161.75,"v":50},{"i":163.25,"v":52},{"i":166.75,"v":38},{"i":170,"v":42},{"i":174.5,"v":55},{"i":179.5,"v":40},{"i":184,"v":47},{"i":187,"v":40},{"i":191.75,"v":58},{"i":197.25,"v":70},{"i":201.75,"v":68},{"i":205.75,"v":58},{"i":209.75,"v":47},{"i":216,"v":36},{"i":221.5,"v":52},{"i":227.5,"v":60},{"i":230.5,"v":61},{"i":234.75,"v":43},{"i":238.75,"v":42},{"i":242.25,"v":55},{"i":247.75,"v":37},{"i":251.25,"v":47},{"i":256.5,"v":38},{"i":261,"v":41},{"i":267,"v":33},{"i":271,"v":28},{"i":276.75,"v":25},{"i":280.75,"v":24},{"i":285.25,"v":35},{"i":289.5,"v":55}],
"or":[{"i":-0.75,"v":81},{"i":7.25,"v":88},{"i":10.75,"v":88},{"i":12,"v":86},{"i":12.75,"v":80},{"i":16,"v":81},{"i":18.75,"v":86},{"i":23,"v":80},{"i":26.5,"v":85},{"i":28.75,"v":74},{"i":30.75,"v":69},{"i":32.5,"v":63},{"i":36.5,"v":53},{"i":40.25,"v":53},{"i":44.75,"v":63},{"i":50.75,"v":61},{"i":58.25,"v":52},{"i":60.75,"v":42},{"i":63.5,"v":54},{"i":66.5,"v":62},{"i":71.75,"v":68},{"i":79.75,"v":69},{"i":84.5,"v":69},{"i":87,"v":66},{"i":89.75,"v":57},{"i":93.5,"v":52},{"i":100.25,"v":51},{"i":108.25,"v":53},{"i":118.75,"v":48},{"i":123.5,"v":52},{"i":126.5,"v":57},{"i":131.75,"v":51},{"i":136,"v":47},{"i":140.25,"v":56},{"i":147,"v":60},{"i":148.75,"v":49},{"i":154,"v":50},{"i":161.75,"v":50},{"i":166.75,"v":43},{"i":170,"v":45},{"i":174.5,"v":55},{"i":179.5,"v":44},{"i":184,"v":48},{"i":187,"v":42},{"i":191.75,"v":52},{"i":197.25,"v":64},{"i":201.75,"v":64},{"i":205.75,"v":58},{"i":209.75,"v":52},{"i":216,"v":43},{"i":221.5,"v":52},{"i":227.5,"v":57},{"i":230.5,"v":57},{"i":234.75,"v":48},{"i":242.25,"v":54},{"i":247.75,"v":46},{"i":251.25,"v":50},{"i":256.5,"v":44},{"i":261,"v":45},{"i":267,"v":40},{"i":273.75,"v":35},{"i":280.75,"v":30},{"i":285.25,"v":35},{"i":289.5,"v":48}],
"mb":[{"i":-0.75,"v":237},{"i":0.75,"v":247},{"i":3.25,"v":216},{"i":5.25,"v":247},{"i":7.5,"v":298},{"i":9,"v":298},{"i":11,"v":278},{"i":13,"v":196},{"i":14,"v":165},{"i":15.5,"v":176},{"i":17.5,"v":278},{"i":19.25,"v":271},{"i":20.75,"v":257},{"i":22.75,"v":231},{"i":24.25,"v":247},{"i":26,"v":308},{"i":27.25,"v":288},{"i":28.75,"v":196},{"i":30.25,"v":135},{"i":32,"v":33},{"i":34,"v":-69},{"i":36,"v":-120},{"i":37.75,"v":-178},{"i":39.5,"v":-145},{"i":41.5,"v":-120},{"i":43.75,"v":2},{"i":46.25,"v":73},{"i":48.75,"v":124},{"i":51.25,"v":120},{"i":52.75,"v":33},{"i":54.75,"v":-8},{"i":57,"v":-69},{"i":59,"v":-90},{"i":60.5,"v":-157},{"i":61.5,"v":-141},{"i":63.5,"v":12},{"i":66.5,"v":114},{"i":69.75,"v":155},{"i":72.25,"v":257},{"i":73.75,"v":237},{"i":75.75,"v":186},{"i":77.75,"v":135},{"i":79.75,"v":176},{"i":83,"v":192},{"i":85,"v":190},{"i":87,"v":155},{"i":88.5,"v":63},{"i":90.5,"v":-39},{"i":92.5,"v":-90},{"i":96.25,"v":-84},{"i":97.75,"v":-43},{"i":100.25,"v":-33},{"i":103.25,"v":-63},{"i":106,"v":-80},{"i":108,"v":-18},{"i":110.5,"v":-14},{"i":113.5,"v":-49},{"i":116.5,"v":-45},{"i":120.75,"v":-63},{"i":123.25,"v":-39},{"i":125.75,"v":53},{"i":128.25,"v":63},{"i":131,"v":12},{"i":134,"v":2},{"i":136,"v":-39},{"i":138,"v":-18},{"i":140,"v":63},{"i":142,"v":94},{"i":144.25,"v":145},{"i":146.25,"v":149},{"i":148.75,"v":33},{"i":151.25,"v":47},{"i":153.25,"v":33},{"i":156,"v":33},{"i":159.75,"v":-90},{"i":163.25,"v":-29},{"i":165.75,"v":-151},{"i":169.25,"v":-212},{"i":171.75,"v":-120},{"i":174.25,"v":12},{"i":176.75,"v":-18},{"i":178.75,"v":-120},{"i":181.75,"v":-90},{"i":183.75,"v":-131},{"i":185.75,"v":-69},{"i":188,"v":-120},{"i":191,"v":63},{"i":194,"v":165},{"i":197,"v":292},{"i":198.5,"v":284},{"i":200,"v":318},{"i":204,"v":227},{"i":207,"v":104},{"i":210,"v":-69},{"i":213,"v":-151},{"i":216,"v":-300},{"i":218,"v":-263},{"i":221,"v":-59},{"i":225,"v":63},{"i":228,"v":135},{"i":230.5,"v":139},{"i":233.5,"v":-18},{"i":237,"v":-131},{"i":240,"v":-49},{"i":242,"v":43},{"i":244,"v":43},{"i":246,"v":-80},{"i":248.5,"v":-222},{"i":250.5,"v":-161},{"i":253.75,"v":-141},{"i":256.25,"v":-186},{"i":259.25,"v":-80},{"i":262.25,"v":-90},{"i":266.25,"v":-131},{"i":270.75,"v":-233},{"i":273.25,"v":-186},{"i":276.75,"v":-182},{"i":280.25,"v":-161},{"i":283.75,"v":-131},{"i":286.75,"v":-8},{"i":288.75,"v":88},{"i":289.75,"v":90}],
"ms":[{"i":-0.75,"v":216},{"i":1.25,"v":243},{"i":3.25,"v":222},{"i":5.25,"v":237},{"i":8,"v":292},{"i":10.5,"v":284},{"i":13.5,"v":206},{"i":15.5,"v":182},{"i":18.25,"v":263},{"i":20.75,"v":263},{"i":23.25,"v":243},{"i":25.75,"v":278},{"i":27.75,"v":284},{"i":29.75,"v":206},{"i":32,"v":104},{"i":34.5,"v":-29},{"i":37,"v":-110},{"i":39,"v":-145},{"i":41,"v":-141},{"i":43.75,"v":-49},{"i":46.25,"v":43},{"i":49.25,"v":104},{"i":51.75,"v":120},{"i":54.25,"v":39},{"i":56.5,"v":-29},{"i":58.5,"v":-80},{"i":61,"v":-145},{"i":63,"v":-110},{"i":65.5,"v":2},{"i":68.75,"v":104},{"i":71.75,"v":196},{"i":73.75,"v":243},{"i":76.75,"v":196},{"i":79.75,"v":155},{"i":83,"v":190},{"i":85.5,"v":190},{"i":88,"v":135},{"i":90.5,"v":-8},{"i":93.25,"v":-80},{"i":96.25,"v":-84},{"i":99.25,"v":-43},{"i":102.25,"v":-43},{"i":105.25,"v":-63},{"i":108.5,"v":-29},{"i":111.5,"v":-18},{"i":114.5,"v":-39},{"i":117.5,"v":-39},{"i":121.75,"v":-49},{"i":124.75,"v":18},{"i":127.75,"v":53},{"i":131,"v":22},{"i":134,"v":-4},{"i":137,"v":-22},{"i":140,"v":43},{"i":143.25,"v":104},{"i":146.25,"v":149},{"i":148.75,"v":63},{"i":151.25,"v":53},{"i":154.25,"v":39},{"i":156.75,"v":22},{"i":159.75,"v":-49},{"i":163.25,"v":-43},{"i":166.75,"v":-161},{"i":169.75,"v":-202},{"i":172.75,"v":-90},{"i":175.25,"v":-8},{"i":178.25,"v":-29},{"i":180.75,"v":-100},{"i":183.75,"v":-90},{"i":186.75,"v":-110},{"i":190,"v":-8},{"i":193,"v":124},{"i":196.5,"v":257},{"i":201,"v":304},{"i":205,"v":196},{"i":209,"v":33},{"i":212,"v":-100},{"i":215,"v":-243},{"i":217.5,"v":-263},{"i":221,"v":-141},{"i":224.5,"v":22},{"i":228,"v":124},{"i":230.5,"v":135},{"i":233.5,"v":-8},{"i":237,"v":-100},{"i":240,"v":-69},{"i":243,"v":33},{"i":245.5,"v":-18},{"i":248,"v":-151},{"i":251.25,"v":-161},{"i":254.75,"v":-165},{"i":258.25,"v":-110},{"i":261.25,"v":-90},{"i":265.25,"v":-120},{"i":270.25,"v":-212},{"i":273.25,"v":-182},{"i":277.25,"v":-178},{"i":281.25,"v":-157},{"i":284.25,"v":-131},{"i":286.75,"v":-59},{"i":289.75,"v":63}]
},
"layer":[
{"resolve":{"scale":{"color":"independent","strokeWidth":"independent"}},
"layer":[
{"data":{"name":"grid"},"mark":{"type":"rule","strokeDash":[3,3],"color":"#000","strokeWidth":1},
 "encoding":{"x":{"field":"i","type":"quantitative","scale":{"domain":[-0.75,313.25],"nice":false,"zero":false}},
  "y":{"datum":7199,"type":"quantitative","scale":{"domain":[6282.2,7199],"nice":false,"zero":false},"axis":null},"y2":{"datum":6548.6}}},
{"data":{"values":[{"i":280.75,"i2":297.75,"p":6952,"p2":6864}]},"mark":{"type":"rect","color":"#ff8c00"},
 "encoding":{"x":{"field":"i","type":"quantitative"},"x2":{"field":"i2"},"y":{"field":"p","type":"quantitative","axis":null},"y2":{"field":"p2"}}},
{"data":{"name":"dl"},"mark":{"type":"rule","color":"#000","clip":true},
 "encoding":{"x":{"field":"i","type":"quantitative"},"x2":{"field":"i2"},"y":{"field":"p","type":"quantitative","axis":null},"y2":{"field":"p2"},
  "strokeWidth":{"field":"w","type":"nominal","scale":{"domain":["k","t"],"range":[2.5,1]},"legend":null}}},
{"data":{"name":"hl"},"mark":{"type":"rule"},
 "encoding":{"y":{"field":"p","type":"quantitative","axis":null},
  "color":{"field":"s","type":"nominal","scale":{"domain":["rk","rt","bt"],"range":["#ff0000","#ff0000","#2a5cff"]},"legend":null},
  "strokeWidth":{"field":"s","type":"nominal","scale":{"domain":["rk","rt","bt"],"range":[3,1,1]},"legend":null}}},
{"data":{"name":"ma"},"transform":[{"fold":["a","b","e","f","p","r"],"as":["s","v"]}],
 "mark":{"type":"line","strokeWidth":1,"interpolate":"monotone","clip":true},
 "encoding":{"x":{"field":"i","type":"quantitative"},"y":{"field":"v","type":"quantitative","axis":null},
  "color":{"field":"s","type":"nominal","scale":{"domain":["a","b","e","f","p","r"],"range":["#6aa8f7","#3c86f0","#1fcc1f","#ffc000","#ff9000","#ff2a00"]},"legend":null}}},
{"data":{"name":"ma"},"mark":{"type":"line","strokeWidth":6,"color":"#1e1b6e","interpolate":"monotone","clip":true},
 "encoding":{"x":{"field":"i","type":"quantitative"},"y":{"field":"n","type":"quantitative","axis":null}}},
{"data":{"name":"bars"},"mark":{"type":"rule","strokeWidth":1},
 "encoding":{"x":{"field":"i","type":"quantitative"},"y":{"field":"l","type":"quantitative","axis":null},"y2":{"field":"h"},
  "color":{"condition":{"test":"datum.c >= datum.o","value":"#2f4f4f"},"value":"#b00000"}}},
{"data":{"name":"bars"},"mark":{"type":"bar","size":2,"strokeWidth":1},
 "encoding":{"x":{"field":"i","type":"quantitative"},"y":{"field":"o","type":"quantitative","axis":null},"y2":{"field":"c"},
  "fill":{"condition":{"test":"datum.c >= datum.o","value":"#90ee90"},"value":"#ff1a1a"},
  "stroke":{"condition":{"test":"datum.c >= datum.o","value":"#2f4f4f"},"value":"#b00000"}}},
{"data":{"name":"zz"},"mark":{"type":"line","color":"#ff0000","strokeWidth":2,"clip":true},
 "encoding":{"x":{"field":"i","type":"quantitative"},"y":{"field":"p","type":"quantitative","axis":null}}},
{"data":{"name":"ar"},"mark":{"type":"rule","color":"#f46464","strokeWidth":6},
 "encoding":{"x":{"field":"i","type":"quantitative"},"x2":{"field":"i2"},"y":{"field":"p","type":"quantitative","axis":null},"y2":{"field":"p2"}}},
{"data":{"values":[{"i":215.2,"p":6993}]},"mark":{"type":"point","shape":"triangle-up","size":450,"filled":true,"opacity":1,"color":"#f46464","angle":166},
 "encoding":{"x":{"field":"i","type":"quantitative"},"y":{"field":"p","type":"quantitative","axis":null}}},
{"data":{"values":[{"i":230.3,"p":7109}]},"mark":{"type":"point","shape":"triangle-up","size":450,"filled":true,"opacity":1,"color":"#f46464","angle":26},
 "encoding":{"x":{"field":"i","type":"quantitative"},"y":{"field":"p","type":"quantitative","axis":null}}},
{"data":{"values":[{"i":282.3,"p":6846}]},"mark":{"type":"point","shape":"triangle-up","size":450,"filled":true,"opacity":1,"color":"#f46464","angle":141},
 "encoding":{"x":{"field":"i","type":"quantitative"},"y":{"field":"p","type":"quantitative","axis":null}}},
{"data":{"values":[{"i":294.25,"p":6958}]},"mark":{"type":"point","shape":"triangle-up","size":450,"filled":true,"opacity":1,"color":"#f46464","angle":20},
 "encoding":{"x":{"field":"i","type":"quantitative"},"y":{"field":"p","type":"quantitative","axis":null}}},
{"mark":{"type":"rect","fill":"transparent","stroke":"#000","strokeWidth":1},
 "encoding":{"x":{"datum":-0.75,"type":"quantitative"},"x2":{"datum":313.25},"y":{"datum":7199,"type":"quantitative","axis":null},"y2":{"datum":6548.6}}},
{"data":{"name":"yl"},"mark":{"type":"rule","color":"#000","strokeWidth":1},
 "encoding":{"x":{"datum":313.25,"type":"quantitative"},"x2":{"datum":314.25},"y":{"field":"p","type":"quantitative","axis":null}}},
{"data":{"name":"yl"},"mark":{"type":"text","align":"left","baseline":"middle","fontSize":10,"color":"#000"},
 "encoding":{"x":{"datum":315.25,"type":"quantitative"},"y":{"field":"p","type":"quantitative","axis":null},"text":{"field":"t"}}},
{"data":{"name":"bm"},"mark":{"type":"bar","size":11},
 "encoding":{"x":{"datum":314.75,"type":"quantitative"},"x2":{"datum":324.75},"y":{"field":"p","type":"quantitative","axis":null},
  "color":{"field":"k","type":"nominal","scale":{"domain":["r","k","b"],"range":["#ff0000","#000000","#0000ff"]},"legend":null}}},
{"data":{"name":"bm"},"mark":{"type":"text","align":"left","baseline":"middle","fontSize":10,"color":"#ffffff"},
 "encoding":{"x":{"datum":315.6,"type":"quantitative"},"y":{"field":"p","type":"quantitative","axis":null},"text":{"field":"t"}}}
]},
{"resolve":{"scale":{"color":"independent","strokeWidth":"independent","strokeDash":"independent"}},
"layer":[
{"data":{"name":"grid"},"mark":{"type":"rule","strokeDash":[3,3],"color":"#000","strokeWidth":1},
 "encoding":{"x":{"field":"i","type":"quantitative"},
  "y":{"datum":100,"type":"quantitative","scale":{"domain":[-97.48,590.76],"nice":false,"zero":false},"axis":null},"y2":{"datum":0}}},
{"data":{"name":"lv"},"mark":{"type":"rule"},
 "encoding":{"y":{"field":"v","type":"quantitative","axis":null},
  "color":{"field":"s","type":"nominal","scale":{"domain":["r1","r2","g","b2","b1"],"range":["#ff0000","#ff0000","#777777","#0000ff","#0000ff"]},"legend":null},
  "strokeDash":{"field":"s","type":"nominal","scale":{"domain":["r1","r2","g","b2","b1"],"range":[[1,0],[9,3,2,3],[3,3],[9,3,2,3],[1,0]]},"legend":null},
  "strokeWidth":{"field":"s","type":"nominal","scale":{"domain":["r1","r2","g","b2","b1"],"range":[1.5,1.5,1,1.5,1.5]},"legend":null}}},
{"data":{"name":"or"},"mark":{"type":"line","color":"#ff0000","strokeWidth":1},
 "encoding":{"x":{"field":"i","type":"quantitative"},"y":{"field":"v","type":"quantitative","axis":null}}},
{"data":{"name":"ob"},"mark":{"type":"line","color":"#0000ff","strokeWidth":1},
 "encoding":{"x":{"field":"i","type":"quantitative"},"y":{"field":"v","type":"quantitative","axis":null}}},
{"data":{"name":"ok"},"mark":{"type":"line","color":"#000000","strokeWidth":1},
 "encoding":{"x":{"field":"i","type":"quantitative"},"y":{"field":"v","type":"quantitative","axis":null}}},
{"mark":{"type":"rect","fill":"transparent","stroke":"#000","strokeWidth":1},
 "encoding":{"x":{"datum":-0.75,"type":"quantitative"},"x2":{"datum":313.25},"y":{"datum":100,"type":"quantitative","axis":null},"y2":{"datum":0}}},
{"data":{"name":"yo"},"mark":{"type":"text","align":"left","baseline":"middle","fontSize":10,"color":"#000"},
 "encoding":{"x":{"datum":314.75,"type":"quantitative"},"y":{"field":"v","type":"quantitative","axis":null},"text":{"field":"t"}}},
{"data":{"name":"bo"},"mark":{"type":"bar","size":11},
 "encoding":{"x":{"datum":314.75,"type":"quantitative"},"x2":{"datum":326},"y":{"field":"v","type":"quantitative","axis":null},
  "color":{"field":"k","type":"nominal","scale":{"domain":["r","k","b"],"range":["#ff0000","#000000","#0000ff"]},"legend":null}}},
{"data":{"name":"bo"},"mark":{"type":"text","align":"left","baseline":"middle","fontSize":10,"color":"#ffffff"},
 "encoding":{"x":{"datum":315.6,"type":"quantitative"},"y":{"field":"v","type":"quantitative","axis":null},"text":{"field":"t"}}}
]},
{"layer":[
{"data":{"name":"grid"},"mark":{"type":"rule","strokeDash":[3,3],"color":"#000","strokeWidth":1},
 "encoding":{"x":{"field":"i","type":"quantitative"},
  "y":{"datum":353,"type":"quantitative","scale":{"domain":[-339,4676.5],"nice":false,"zero":false},"axis":null},"y2":{"datum":-339}}},
{"data":{"name":"bars"},"mark":{"type":"bar","size":3},
 "encoding":{"x":{"field":"i","type":"quantitative",
   "axis":{"orient":"bottom","title":null,"values":[7,23,39,55,71,87,103,119,135,151,167,183,199,215,231,247,263,279],"labelExpr":"['26 Jan 04:00','28 Jan 20:00','2 Feb 12:00','5 Feb 04:00','9 Feb 20:00','12 Feb 12:00','17 Feb 04:00','19 Feb 20:00','24 Feb 12:00','27 Feb 04:00','3 Mar 20:00','6 Mar 12:00','11 Mar 04:00','13 Mar 20:00','18 Mar 12:00','23 Mar 04:00','25 Mar 20:00','30 Mar 12:00'][round((datum.value-7)/16)]","labelAlign":"left","labelBaseline":"top","labelOffset":1,"labelPadding":1,"tickSize":3,"labelOverlap":false,"labelBound":false,"labelFlush":false,"domain":false,"grid":false,"ticks":true}},
  "y":{"field":"g","type":"quantitative","axis":null},"y2":{"datum":0},
  "color":{"condition":{"test":"datum.g >= 0","value":"#2a8ef0"},"value":"#f9a48a"}}},
{"data":{"name":"mb"},"mark":{"type":"line","color":"#0000cd","strokeWidth":2},
 "encoding":{"x":{"field":"i","type":"quantitative"},"y":{"field":"v","type":"quantitative","axis":null}}},
{"data":{"name":"ms"},"mark":{"type":"line","color":"#ff8c00","strokeWidth":2},
 "encoding":{"x":{"field":"i","type":"quantitative"},"y":{"field":"v","type":"quantitative","axis":null}}},
{"data":{"values":[{"i":290.25,"v":72}]},"mark":{"type":"point","shape":"circle","size":4700,"filled":false,"stroke":"#ee5a5a","strokeWidth":2,"opacity":1},
 "encoding":{"x":{"field":"i","type":"quantitative"},"y":{"field":"v","type":"quantitative","axis":null}}},
{"mark":{"type":"rect","fill":"transparent","stroke":"#000","strokeWidth":1},
 "encoding":{"x":{"datum":-0.75,"type":"quantitative"},"x2":{"datum":313.25},"y":{"datum":353,"type":"quantitative","axis":null},"y2":{"datum":-339}}},
{"data":{"name":"ym"},"mark":{"type":"rule","color":"#000","strokeWidth":1},
 "encoding":{"x":{"datum":313.25,"type":"quantitative"},"x2":{"datum":314.25},"y":{"field":"v","type":"quantitative","axis":null}}},
{"data":{"name":"ym"},"mark":{"type":"text","align":"left","baseline":"middle","fontSize":10,"color":"#000"},
 "encoding":{"x":{"datum":315.25,"type":"quantitative"},"y":{"field":"v","type":"quantitative","axis":null},"text":{"field":"t"}}}
]}
]
}
